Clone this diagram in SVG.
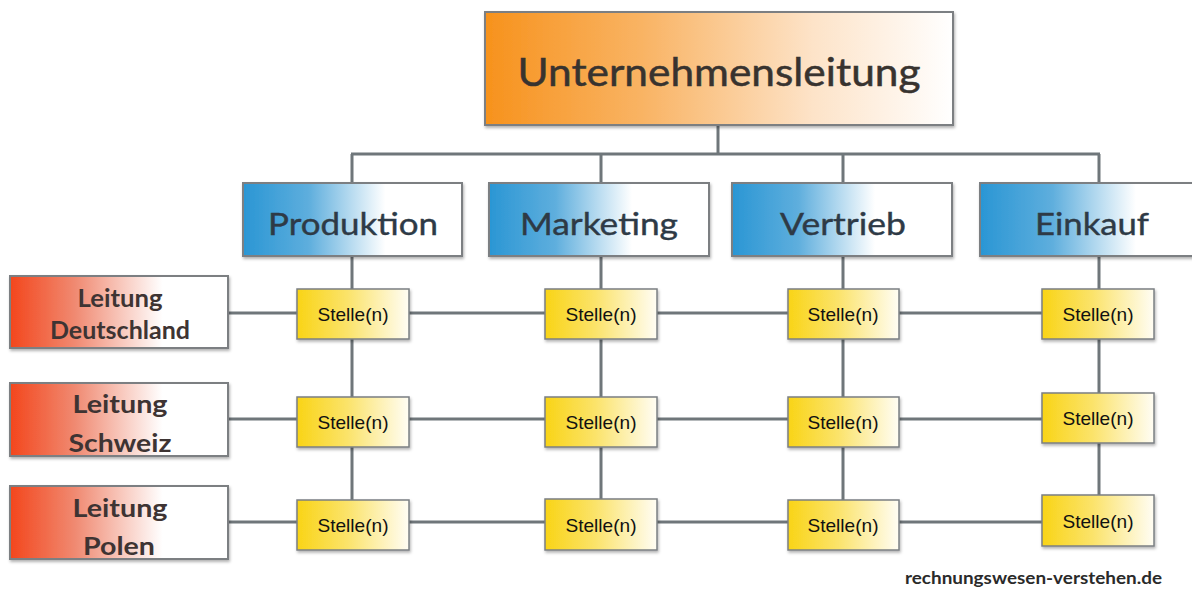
<svg xmlns="http://www.w3.org/2000/svg" width="1192" height="589" viewBox="0 0 1192 589">
  <defs>
    <linearGradient id="gOrange" x1="0" y1="0" x2="1" y2="0">
      <stop offset="0" stop-color="#f7921c"/>
      <stop offset="0.35" stop-color="#f9b567"/>
      <stop offset="0.7" stop-color="#fde3c8"/>
      <stop offset="1" stop-color="#ffffff"/>
    </linearGradient>
    <linearGradient id="gBlue" x1="0" y1="0" x2="1" y2="0">
      <stop offset="0" stop-color="#2a96d4"/>
      <stop offset="0.3" stop-color="#5eaedd"/>
      <stop offset="0.65" stop-color="#ffffff"/>
      <stop offset="1" stop-color="#ffffff"/>
    </linearGradient>
    <linearGradient id="gRed" x1="0" y1="0" x2="1" y2="0">
      <stop offset="0" stop-color="#f3461c"/>
      <stop offset="0.3" stop-color="#f08a72"/>
      <stop offset="0.7" stop-color="#ffffff"/>
      <stop offset="1" stop-color="#ffffff"/>
    </linearGradient>
    <linearGradient id="gYellow" x1="0" y1="0" x2="1" y2="0">
      <stop offset="0" stop-color="#f9d416"/>
      <stop offset="0.45" stop-color="#fbe36a"/>
      <stop offset="1" stop-color="#fffdf4"/>
    </linearGradient>
    <filter id="shadow" x="-10%" y="-10%" width="130%" height="140%">
      <feDropShadow dx="1" dy="2" stdDeviation="1.5" flood-color="#000000" flood-opacity="0.3"/>
    </filter>
    <style>
      .box { stroke: #7b7f82; stroke-width: 2; filter: url(#shadow); }
      .top { fill: url(#gOrange); }
      .dept { fill: url(#gBlue); }
      .lead { fill: url(#gRed); }
      .post { fill: url(#gYellow); stroke-width: 1.5; }
      .line { stroke: #6f767a; stroke-width: 3; fill: none; }
      .tTop { font-family: Lato, "Open Sans", sans-serif; font-size: 39px; fill: #38332f; stroke: #38332f; stroke-width: 0.5; text-anchor: middle; }
      .tDept { font-family: Lato, "Open Sans", sans-serif; font-size: 31px; fill: #2e3a46; stroke: #2e3a46; stroke-width: 0.4; text-anchor: middle; }
      .tLead { font-family: Lato, "Open Sans", sans-serif; font-weight: bold; font-size: 24px; fill: #3e3433; text-anchor: middle; }
      .tPost { font-family: "Liberation Sans", Arial, sans-serif; font-size: 19px; fill: #111111; text-anchor: middle; }
      .tMark { font-family: Lato, "Open Sans", sans-serif; font-weight: bold; font-size: 17px; fill: #2a2a2a; }
    </style>
  </defs>

  <rect width="1192" height="589" fill="#ffffff"/>

  <!-- connectors -->
  <g id="connectors">
    <line class="line" x1="718" y1="125" x2="718" y2="154"/>
    <line class="line" x1="351" y1="154" x2="1100" y2="154"/>
    <line class="line" x1="352" y1="154" x2="352" y2="525"/>
    <line class="line" x1="601" y1="154" x2="601" y2="525"/>
    <line class="line" x1="843" y1="154" x2="843" y2="525"/>
    <line class="line" x1="1099" y1="154" x2="1099" y2="520"/>
    <line class="line" x1="228" y1="313" x2="1042" y2="313"/>
    <line class="line" x1="228" y1="419" x2="1042" y2="419"/>
    <line class="line" x1="228" y1="522" x2="1042" y2="522"/>
  </g>

  <!-- management -->
  <g id="unternehmensleitung">
    <rect class="box top" x="485" y="12" width="468" height="113"/>
    <text class="tTop" x="719" y="86" textLength="403" lengthAdjust="spacingAndGlyphs">Unternehmensleitung</text>
  </g>

  <!-- departments -->
  <g id="produktion">
    <rect class="box dept" x="243" y="183" width="219" height="73"/>
    <text class="tDept" x="353" y="235" textLength="170" lengthAdjust="spacingAndGlyphs">Produktion</text>
  </g>
  <g id="marketing">
    <rect class="box dept" x="489" y="183" width="220" height="73"/>
    <text class="tDept" x="599" y="235" textLength="158" lengthAdjust="spacingAndGlyphs">Marketing</text>
  </g>
  <g id="vertrieb">
    <rect class="box dept" x="732" y="183" width="220" height="73"/>
    <text class="tDept" x="843" y="235" textLength="126" lengthAdjust="spacingAndGlyphs">Vertrieb</text>
  </g>
  <g id="einkauf">
    <rect class="box dept" x="980" y="183" width="240" height="73"/>
    <text class="tDept" x="1092" y="235" textLength="114" lengthAdjust="spacingAndGlyphs">Einkauf</text>
  </g>

  <!-- country management -->
  <g id="leitung-deutschland">
    <rect class="box lead" x="10" y="276" width="218" height="72"/>
    <text class="tLead" x="120" y="307" textLength="85" lengthAdjust="spacingAndGlyphs">Leitung</text>
    <text class="tLead" x="120" y="339" textLength="140" lengthAdjust="spacingAndGlyphs">Deutschland</text>
  </g>
  <g id="leitung-schweiz">
    <rect class="box lead" x="10" y="383" width="218" height="73"/>
    <text class="tLead" x="120" y="413" textLength="95" lengthAdjust="spacingAndGlyphs">Leitung</text>
    <text class="tLead" x="120" y="452" textLength="103" lengthAdjust="spacingAndGlyphs">Schweiz</text>
  </g>
  <g id="leitung-polen">
    <rect class="box lead" x="10" y="486" width="218" height="73"/>
    <text class="tLead" x="120" y="517" textLength="95" lengthAdjust="spacingAndGlyphs">Leitung</text>
    <text class="tLead" x="119" y="555" textLength="72" lengthAdjust="spacingAndGlyphs">Polen</text>
  </g>

  <!-- positions -->
  <g id="stelle-1-1">
    <rect class="box post" x="297" y="289" width="112" height="50"/>
    <text class="tPost" x="353" y="321" textLength="71" lengthAdjust="spacingAndGlyphs">Stelle(n)</text>
  </g>
  <g id="stelle-1-2">
    <rect class="box post" x="545" y="289" width="112" height="50"/>
    <text class="tPost" x="601" y="321" textLength="71" lengthAdjust="spacingAndGlyphs">Stelle(n)</text>
  </g>
  <g id="stelle-1-3">
    <rect class="box post" x="788" y="289" width="111" height="50"/>
    <text class="tPost" x="843" y="321" textLength="71" lengthAdjust="spacingAndGlyphs">Stelle(n)</text>
  </g>
  <g id="stelle-1-4">
    <rect class="box post" x="1042" y="289" width="112" height="50"/>
    <text class="tPost" x="1098" y="321" textLength="71" lengthAdjust="spacingAndGlyphs">Stelle(n)</text>
  </g>

  <g id="stelle-2-1">
    <rect class="box post" x="297" y="397" width="112" height="50"/>
    <text class="tPost" x="353" y="429" textLength="71" lengthAdjust="spacingAndGlyphs">Stelle(n)</text>
  </g>
  <g id="stelle-2-2">
    <rect class="box post" x="545" y="397" width="112" height="50"/>
    <text class="tPost" x="601" y="429" textLength="71" lengthAdjust="spacingAndGlyphs">Stelle(n)</text>
  </g>
  <g id="stelle-2-3">
    <rect class="box post" x="788" y="397" width="111" height="50"/>
    <text class="tPost" x="843" y="429" textLength="71" lengthAdjust="spacingAndGlyphs">Stelle(n)</text>
  </g>
  <g id="stelle-2-4">
    <rect class="box post" x="1042" y="393" width="112" height="50"/>
    <text class="tPost" x="1098" y="425" textLength="71" lengthAdjust="spacingAndGlyphs">Stelle(n)</text>
  </g>

  <g id="stelle-3-1">
    <rect class="box post" x="297" y="500" width="112" height="50"/>
    <text class="tPost" x="353" y="532" textLength="71" lengthAdjust="spacingAndGlyphs">Stelle(n)</text>
  </g>
  <g id="stelle-3-2">
    <rect class="box post" x="545" y="499" width="112" height="51"/>
    <text class="tPost" x="601" y="532" textLength="71" lengthAdjust="spacingAndGlyphs">Stelle(n)</text>
  </g>
  <g id="stelle-3-3">
    <rect class="box post" x="788" y="500" width="111" height="50"/>
    <text class="tPost" x="843" y="532" textLength="71" lengthAdjust="spacingAndGlyphs">Stelle(n)</text>
  </g>
  <g id="stelle-3-4">
    <rect class="box post" x="1042" y="495" width="112" height="51"/>
    <text class="tPost" x="1098" y="528" textLength="71" lengthAdjust="spacingAndGlyphs">Stelle(n)</text>
  </g>

  <text class="tMark" x="905" y="584" textLength="257" lengthAdjust="spacingAndGlyphs">rechnungswesen-verstehen.de</text>
</svg>
